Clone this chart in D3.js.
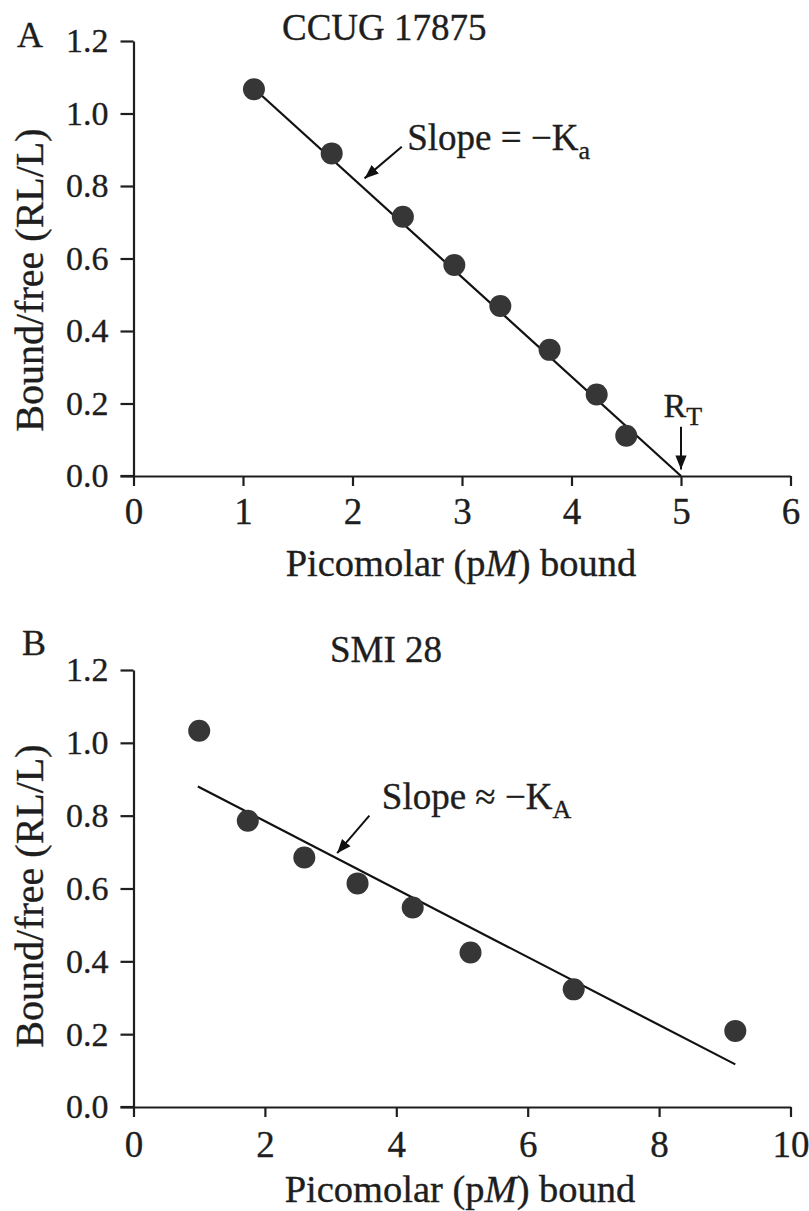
<!DOCTYPE html>
<html>
<head>
<meta charset="utf-8">
<script src="https://cdn.jsdelivr.net/npm/d3@7"></script>
<style>
  html, body { margin: 0; padding: 0; background: #fff; }
  svg { display: block; }
  svg text { font-family: "Liberation Serif", "Times New Roman", Tinos, "Nimbus Roman", "DejaVu Serif", serif; fill: #1e1e1e; stroke: #1e1e1e; stroke-width: 0.35px; }
</style>
</head>
<body>
<svg id="chart" width="809" height="1211"></svg>
<script>
// ---------- data ----------
// Panel A: CCUG 17875
const aBound = [1.10, 1.81, 2.46, 2.93, 3.35, 3.80, 4.23, 4.50];
const aRatio = [1.067, 0.890, 0.715, 0.582, 0.469, 0.348, 0.225, 0.111];
const aFitX = [1.10, 5.00];
const aFitY = [1.069, 0.000];
const aXTicks = [0, 1, 2, 3, 4, 5, 6];
const aYTicks = [0.0, 0.2, 0.4, 0.6, 0.8, 1.0, 1.2];

// Panel B: SMI 28
const bBound = [1.00, 1.74, 2.60, 3.41, 4.25, 5.13, 6.70, 9.16];
const bRatio = [1.033, 0.786, 0.685, 0.614, 0.548, 0.424, 0.323, 0.209];
const bFitX = [0.98, 9.16];
const bFitY = [0.880, 0.117];
const bXTicks = [0, 2, 4, 6, 8, 10];
const bYTicks = [0.0, 0.2, 0.4, 0.6, 0.8, 1.0, 1.2];

const yTitle = "Bound/free (RL/L)";
const xTitleParts = ["Picomolar (p", "M", ") bound"];

// ---------- drawing ----------
const FONT = '"Liberation Serif", "Times New Roman", Tinos, "Nimbus Roman", "DejaVu Serif", serif';
const svg = d3.select("#chart");
const defs = svg.append("defs");
defs.append("marker")
  .attr("id", "arrowhead")
  .attr("viewBox", "0 0 10 10")
  .attr("refX", 10).attr("refY", 5)
  .attr("markerWidth", 7).attr("markerHeight", 7)
  .attr("markerUnits", "strokeWidth")
  .attr("orient", "auto")
  .append("path").attr("d", "M0,1 L10,5 L0,9 z").attr("fill", "#111");

function panel(cfg) {
  const x = d3.scaleLinear().domain(cfg.xDomain).range([cfg.left, cfg.right]);
  const y = d3.scaleLinear().domain([0, 1.2]).range([cfg.bottom, cfg.top]);
  const g = svg.append("g");

  const ya = g.append("g")
    .attr("transform", `translate(${cfg.left},0)`)
    .call(d3.axisLeft(y).tickValues(cfg.yTicks).tickFormat(d3.format(".1f"))
      .tickSize(13).tickSizeOuter(0).tickPadding(12));
  ya.attr("font-family", FONT);
  ya.selectAll("text").style("font-size", "34px").style("font-family", FONT).attr("fill", "#1e1e1e");

  const xa = g.append("g")
    .attr("transform", `translate(0,${cfg.bottom})`)
    .call(d3.axisBottom(x).tickValues(cfg.xTicks).tickFormat(d3.format("d"))
      .tickSize(10).tickSizeOuter(0).tickPadding(cfg.xPad));
  xa.attr("font-family", FONT);
  xa.selectAll("text").style("font-size", "37px").style("font-family", FONT).attr("fill", "#1e1e1e");

  g.append("line")
    .attr("x1", cfg.left - 13).attr("x2", cfg.left)
    .attr("y1", cfg.bottom).attr("y2", cfg.bottom)
    .attr("stroke", "#1e1e1e").attr("stroke-width", 2.2);

  [ya, xa].forEach(a => {
    a.selectAll("path, line").attr("stroke", "#1e1e1e").attr("stroke-width", 2.2);
  });

  const fit = cfg.fitX.map((d, i) => [d, cfg.fitY[i]]);
  g.append("path")
    .datum(fit)
    .attr("d", d3.line().x(d => x(d[0])).y(d => y(d[1])))
    .attr("fill", "none").attr("stroke", "#111").attr("stroke-width", 2.2);

  g.selectAll("circle.pt")
    .data(cfg.xs.map((d, i) => [d, cfg.ys[i]]))
    .join("circle")
    .attr("class", "pt")
    .attr("cx", d => x(d[0])).attr("cy", d => y(d[1]))
    .attr("r", 11).attr("fill", "#363636");

  g.append("text")
    .attr("transform", `translate(43,${cfg.yTitleCenter}) rotate(-90)`)
    .attr("text-anchor", "middle")
    .style("font-size", "40px").style("font-family", FONT)
    .text(yTitle);

  const xt = g.append("text")
    .attr("x", cfg.xTitleX).attr("y", cfg.xTitleY)
    .attr("text-anchor", "middle")
    .style("font-size", "38.5px").style("font-family", FONT);
  xt.append("tspan").text(xTitleParts[0]);
  xt.append("tspan").style("font-style", "italic").text(xTitleParts[1]);
  xt.append("tspan").text(xTitleParts[2]);

  g.append("text").attr("x", cfg.letterX).attr("y", cfg.letterY)
    .style("font-size", "36px").style("font-family", FONT).text(cfg.letter);
  g.append("text").attr("x", cfg.titleX).attr("y", cfg.titleY)
    .style("font-size", "37px").style("font-family", FONT).text(cfg.title);

  const ann = cfg.slope;
  g.append("line")
    .attr("x1", x(ann.tail[0])).attr("y1", y(ann.tail[1]))
    .attr("x2", x(ann.tip[0])).attr("y2", y(ann.tip[1]))
    .attr("stroke", "#111").attr("stroke-width", 2)
    .attr("marker-end", "url(#arrowhead)");
  const st = g.append("text")
    .attr("x", x(ann.text[0])).attr("y", y(ann.text[1]))
    .style("font-size", "37px").style("font-family", FONT);
  st.append("tspan").text(ann.label);
  st.append("tspan").attr("dy", 9).style("font-size", "26px").text(ann.sub);

  return { x, y, g };
}

const A = panel({
  xDomain: [0, 6], left: 133.5, right: 790.5, top: 41, bottom: 476,
  xTicks: aXTicks, yTicks: aYTicks, xPad: 12,
  xs: aBound, ys: aRatio, fitX: aFitX, fitY: aFitY,
  yTitleCenter: 280, xTitleX: 461, xTitleY: 576,
  letter: "A", letterX: 17, letterY: 47,
  title: "CCUG 17875", titleX: 282, titleY: 40,
  slope: { tail: [2.45, 0.908], tip: [2.11, 0.821], text: [2.50, 0.90], label: "Slope = \u2212K", sub: "a" }
});

A.g.append("line")
  .attr("x1", A.x(5.0)).attr("y1", A.y(0.136))
  .attr("x2", A.x(5.0)).attr("y2", A.y(0.018))
  .attr("stroke", "#111").attr("stroke-width", 2)
  .attr("marker-end", "url(#arrowhead)");
const rt = A.g.append("text")
  .attr("x", A.x(4.84)).attr("y", A.y(0.164))
  .style("font-size", "34px").style("font-family", FONT);
rt.append("tspan").text("R");
rt.append("tspan").attr("dy", 8).style("font-size", "26px").text("T");

const B = panel({
  xDomain: [0, 10], left: 133.5, right: 790.5, top: 670, bottom: 1107,
  xTicks: bXTicks, yTicks: bYTicks, xPad: 14,
  xs: bBound, ys: bRatio, fitX: bFitX, fitY: bFitY,
  yTitleCenter: 896, xTitleX: 460, xTitleY: 1202,
  letter: "B", letterX: 22, letterY: 655,
  title: "SMI 28", titleX: 330, titleY: 662,
  slope: { tail: [3.59, 0.80], tip: [3.10, 0.697], text: [3.78, 0.818], label: "Slope \u2248 \u2212K", sub: "A" }
});
</script>
</body>
</html>
